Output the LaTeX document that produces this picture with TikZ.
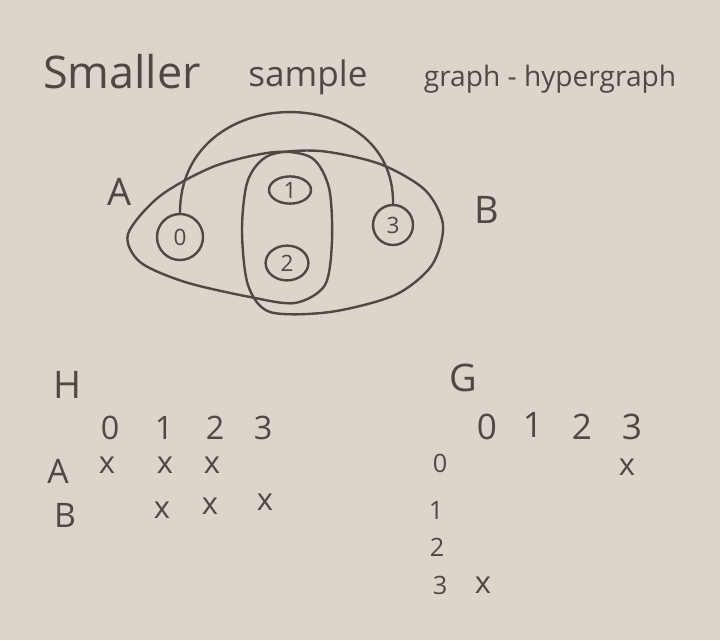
\documentclass[tikz,border=0pt]{standalone}
\usepackage{fontspec}
\setmainfont{Open Sans}
\usetikzlibrary{positioning, shapes.geometric}
\definecolor{paperBg}{HTML}{DDD5CB}
\definecolor{inkGrey}{HTML}{4F4843}
\newcommand{\fsz}[1]{\fontsize{#1}{#1}\selectfont}

\begin{document}
\begin{tikzpicture}[x=0.025cm, y=-0.025cm, color=inkGrey, line width=1.7pt,
    vert/.style={circle, draw, inner sep=0pt, minimum size=1.05cm, font=\fsz{16}},
    hedge/.style={line join=round},
    cross/.style={font=\fsz{22}, inner sep=1pt}]
        % hoja
        \fill[paperBg] (0,0) rectangle (720,640);
        \useasboundingbox (0,0) rectangle (720,640);
        % titulo
        \node[anchor=base, font=\fsz{32}] (ttlSmaller) at (122,88) {Smaller};
        \node[anchor=base, font=\fsz{25}] (ttlSample) at (308,86) {sample};
        \node[anchor=base, font=\fsz{20}] (ttlGraph) at (550,86) {graph - hypergraph};
        % vertices
        \node[vert, minimum size=1.15cm] (v0) at (180,237) {0};
        \node[vert, ellipse, minimum width=1.05cm, minimum height=0.68cm] (v1) at (290,190) {1};
        \node[vert, ellipse, minimum width=1.07cm, minimum height=0.87cm] (v2) at (287,263) {2};
        \node[vert, minimum size=1.0cm] (v3) at (393,225) {3};
        % arista del grafo 0-3
        \draw (v0.north) .. controls (180,80) and (395,80) .. (v3.north);
        % hiperaristas
        \draw[hedge] plot[smooth cycle] coordinates {(128,234) (160,196) (215,166)
          (275,152) (312,158) (329,188) (332,240) (325,285) (295,303) (250,297)
          (185,282) (140,262)};
        \draw[hedge] plot[smooth cycle] coordinates {(270,312) (248,285) (242,230)
          (248,180) (270,155) (320,151) (380,164) (425,190) (443,225) (432,265)
          (395,295) (330,312)};
        \node[font=\fsz{27}] (lblA) at (120,192) {A};
        \node[font=\fsz{27}] (lblB) at (487,210) {B};
        % matriz H
        \node[font=\fsz{27}] (hName) at (68,385) {H};
        \node[font=\fsz{23}] (hc0) at (110,428) {0};
        \node[font=\fsz{23}] (hc1) at (164,428) {1};
        \node[font=\fsz{23}] (hc2) at (215,428) {2};
        \node[font=\fsz{23}] (hc3) at (263,428) {3};
        \node[font=\fsz{24}] (hA) at (58,471) {A};
        \node[font=\fsz{24}] (hB) at (65,515) {B};
        \node[cross] (hA0) at (107,465) {x};
        \node[cross] (hA1) at (165,465) {x};
        \node[cross] (hA2) at (212,465) {x};
        \node[cross] (hB1) at (162,510) {x};
        \node[cross] (hB2) at (210,506) {x};
        \node[cross] (hB3) at (265,502) {x};
        % matriz G
        \node[font=\fsz{27}] (gName) at (463,378) {G};
        \node[font=\fsz{25}] (gc0) at (487,427) {0};
        \node[font=\fsz{25}] (gc1) at (533,425) {1};
        \node[font=\fsz{25}] (gc2) at (582,427) {2};
        \node[font=\fsz{25}] (gc3) at (632,427) {3};
        \node[font=\fsz{18}] (gr0) at (440,463) {0};
        \node[font=\fsz{18}] (gr1) at (436,510) {1};
        \node[font=\fsz{18}] (gr2) at (437,547) {2};
        \node[font=\fsz{18}] (gr3) at (440,585) {3};
        \node[cross] (g03) at (627,467) {x};
        \node[cross] (g30) at (483,585) {x};
      \end{tikzpicture}
\end{document}
